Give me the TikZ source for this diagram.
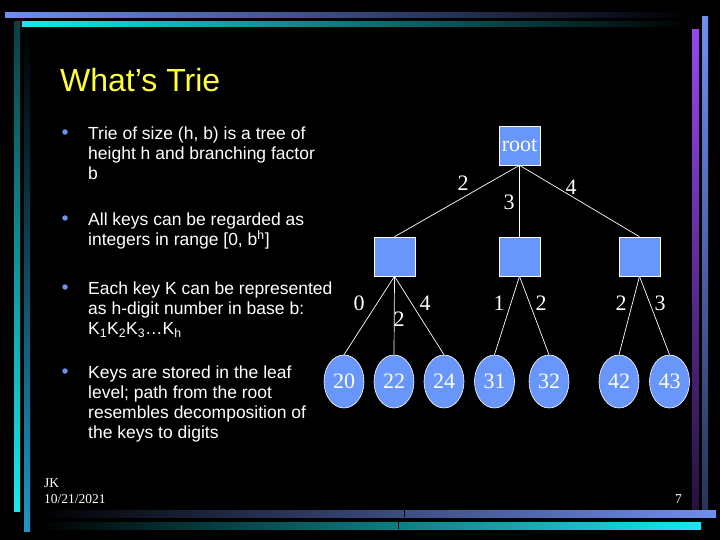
\documentclass[tikz,border=0pt]{standalone}
\usepackage{fontspec}
\setmainfont{Liberation Sans}
\newfontfamily\trieserif{Liberation Serif}
\usetikzlibrary{shapes.geometric}

\definecolor{nodeblue}{RGB}{104,150,250}
\definecolor{barblue}{RGB}{111,143,239}
\definecolor{barcyan}{RGB}{25,232,240}
\definecolor{barteal}{RGB}{10,62,66}
\definecolor{barsteel}{RGB}{30,150,200}
\definecolor{barpurple}{RGB}{150,70,240}
\definecolor{titleyellow}{RGB}{255,255,60}

\begin{document}
\begin{tikzpicture}[
  x=1pt, y=-1pt, every node/.style={inner sep=0pt},
  inner/.style={draw=white, line width=0.6pt, fill=nodeblue, text=white,
                minimum width=41pt, minimum height=39pt,
                font=\trieserif\fontsize{22}{24}\selectfont},
  leaf/.style={ellipse, draw=white, line width=0.6pt, fill=nodeblue,
               text=white, minimum width=40pt, minimum height=53pt,
               font=\trieserif\fontsize{22}{24}\selectfont},
  digit/.style={text=white, font=\trieserif\fontsize{22}{24}\selectfont},
  edge/.style={draw=white, line width=0.7pt},
  dot/.style={circle, fill=barblue, minimum size=5.5pt},
  point/.style={text=white, anchor=north west, align=left,
                font=\fontsize{17.5}{19.8}\selectfont},
  foot/.style={text=white, anchor=base west,
               font=\trieserif\fontsize{13.5}{15}\selectfont}
]
  % background and frame bars
  \fill[black] (0,0) rectangle (720,540);
  \useasboundingbox (0,0) rectangle (720,540);
  \fill[left color=barblue, right color=black] (5,13) rectangle (690,18);
  \fill[left color=barcyan, right color=black] (22,22) rectangle (690,27);
  \fill[top color=barteal, bottom color=barcyan] (14,22) rectangle (20,511);
  \fill[top color=black, bottom color=barsteel] (24,28) rectangle (30,531);
  \fill[top color=barpurple, bottom color=barpurple!25!black] (692,30) rectangle (699,510);
  \fill[top color=barblue, bottom color=barblue!35!black] (702,17) rectangle (708,517);
  \fill[left color=black, right color=barblue] (37,510) rectangle (716,517);
  \fill[left color=black, right color=barcyan] (37,522) rectangle (701,529);
  \draw[black, line width=0.8pt] (404,510) -- (404,517);
  \draw[black, line width=0.8pt] (398,522) -- (398,529);

  \node[text=titleyellow, anchor=base west, font=\fontsize{32}{36}\selectfont]
    (title) at (60,92) {What’s Trie};

  % bullet points (top of first line)
  \node[dot] (d1) at (65,132) {};
  \node[point] (p1) at (88,127) {Trie of size (h, b) is a tree of\\height h and branching factor\\b};
  \node[dot] (d2) at (65,218) {};
  \node[point] (p2) at (88,213) {All keys can be regarded as\\integers in range [0, b\textsuperscript{h}]};
  \node[dot] (d3) at (65,287) {};
  \node[point] (p3) at (88,282) {Each key K can be represented\\as h-digit number in base b:\\K\textsubscript{1}K\textsubscript{2}K\textsubscript{3}\ldots K\textsubscript{h}};
  \node[dot] (d4) at (65,371) {};
  \node[point] (p4) at (88,366) {Keys are stored in the leaf\\level; path from the root\\resembles decomposition of\\the keys to digits};

  % trie
  \node[inner] (root) at (519.5,145.5) {root};
  \node[inner] (n2) at (394.5,256.5) {};
  \node[inner] (n3) at (519.5,256.5) {};
  \node[inner] (n4) at (639.5,256.5) {};

  \node[leaf] (k20) at (344,381.5) {20};
  \node[leaf] (k22) at (394,381.5) {22};
  \node[leaf] (k24) at (444,381.5) {24};
  \node[leaf] (k31) at (494.5,381.5) {31};
  \node[leaf] (k32) at (549,381.5) {32};
  \node[leaf] (k42) at (619,381.5) {42};
  \node[leaf] (k43) at (669.5,381.5) {43};

  \draw[edge] (root.south) -- (n2.north);
  \draw[edge] (root.south) -- (n3.north);
  \draw[edge] (root.south) -- (n4.north);
  \foreach \k in {20,22,24} \draw[edge] (n2.south) -- (k\k.north);
  \foreach \k in {31,32} \draw[edge] (n3.south) -- (k\k.north);
  \foreach \k in {42,43} \draw[edge] (n4.south) -- (k\k.north);

  \node[digit] (e2) at (463,183) {2};
  \node[digit] (e3) at (509,202) {3};
  \node[digit] (e4) at (571,187) {4};
  \node[digit] (e20) at (359,303) {0};
  \node[digit] (e22) at (399,319) {2};
  \node[digit] (e24) at (425,303) {4};
  \node[digit] (e31) at (499,303) {1};
  \node[digit] (e32) at (541,303) {2};
  \node[digit] (e42) at (621,303) {2};
  \node[digit] (e43) at (660,303) {3};

  % footer
  \node[foot] (who) at (44,487) {JK};
  \node[foot] (date) at (44,503) {10/21/2021};
  \node[foot, anchor=base east] (page) at (682,503) {7};
\end{tikzpicture}
\end{document}
